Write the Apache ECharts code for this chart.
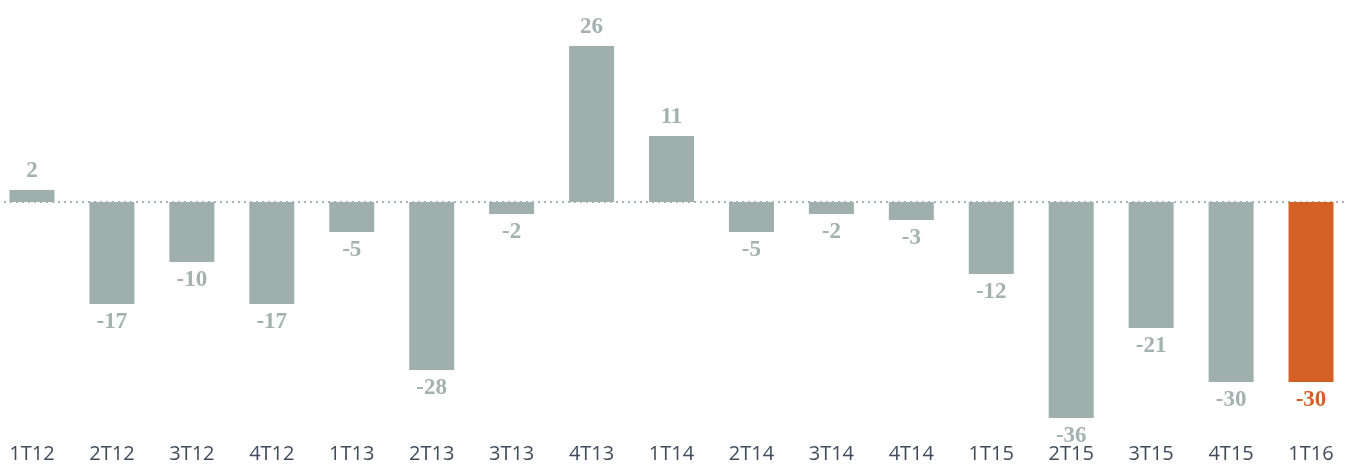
<!DOCTYPE html>
<html>
<head>
<meta charset="utf-8">
<style>
  html, body { margin: 0; padding: 0; background: #fff; overflow: hidden; }
  #chart { width: 1359px; height: 470px; margin-left: -8px; }
</style>
<script src="https://cdn.jsdelivr.net/npm/echarts@6/dist/echarts.min.js"></script>
</head>
<body>
<div id="chart"></div>
<script>
// trimestres
var categories = ['1T12', '2T12', '3T12', '4T12', '1T13', '2T13', '3T13', '4T13', '1T14',
    '2T14', '3T14', '4T14', '1T15', '2T15', '3T15', '4T15', '1T16'];
// saldo trimestral
var values = [2, -17, -10, -17, -5, -28, -2, 26, 11, -5, -2, -3, -12, -36, -21, -30, -30];

var grey = '#9fafab';
var orange = '#d46026';
var lastIdx = values.length - 1;

var chart = echarts.init(document.getElementById('chart'));

var barData = values.map(function(v, i) {
    var c = i === lastIdx ? orange : grey;
    return {
        value: v,
        itemStyle: { color: c },
        label: {
            position: v >= 0 ? 'top' : 'bottom',
            color: i === lastIdx ? orange : '#a3b2ae'
        }
    };
});

chart.setOption({
    animation: false,
    grid: { left: 0, right: 0, top: 46, bottom: 52, containLabel: false },
    xAxis: {
        type: 'category',
        data: categories,
        axisLine: { show: false, onZero: false },
        axisTick: { show: false },
        axisLabel: {
            margin: 26,
            color: '#3e4c5c',
            fontFamily: 'Open Sans',
            fontSize: 20
        }
    },
    yAxis: {
        type: 'value',
        min: -36,
        max: 26,
        show: false,
        splitLine: { show: false }
    },
    series: [{
        type: 'bar',
        barWidth: 45,
        data: barData,
        label: {
            show: true,
            distance: 7,
            fontFamily: 'Liberation Serif',
            fontWeight: 'bold',
            fontSize: 23
        },
        markLine: {
            silent: true,
            symbol: 'none',
            label: { show: false },
            lineStyle: { color: '#a8b4b1', type: [2, 4], width: 2 },
            data: [{ yAxis: 0 }],
            z: 1
        }
    }]
});
</script>
</body>
</html>
